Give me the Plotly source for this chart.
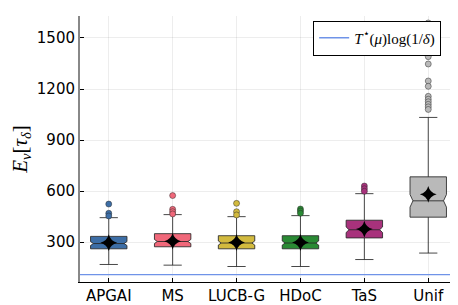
import plotly.graph_objects as go

categories = ["APGAI", "MS", "LUCB-G", "HDoC", "TaS", "Unif"]
q1 = [261, 273, 261, 261, 325, 447]
median = [292, 304, 295, 295, 373, 543]
q3 = [334, 350, 338, 338, 429, 684]
lowerfence = [169, 165, 157, 157, 198, 236]
upperfence = [444, 462, 450, 456, 585, 1033]
means = [297, 306, 298, 298, 377, 581]
outliers = [
    [524, 470, 454],
    [574, 493, 479, 466],
    [528, 479, 460],
    [495, 483, 470],
    [630, 614, 599],
    [1588, 1530, 1470, 1420, 1390, 1347, 1247, 1216, 1157, 1140, 1125, 1110, 1095, 1080],
]
colors = ["#3d6ea6", "#f0687a", "#d2ba3e", "#2a8a34", "#a8327c", "#b9b9b9"]
tstar_value = 109
legend_label = "<i>T</i><sup>\u22c6</sup>(<i>\u03bc</i>)log(1/<i>\u03b4</i>)"
y_label = "<i>E</i><sub><i>\u03bd</i></sub>[<i>\u03c4</i><sub><i>\u03b4</i></sub>]"

fig = go.Figure()
xs = list(range(len(categories)))

for i in xs:
    iqr = q3[i] - q1[i]
    fig.add_trace(go.Box(
        x=[i], q1=[q1[i]], median=[median[i]], q3=[q3[i]],
        lowerfence=[lowerfence[i]], upperfence=[upperfence[i]],
        notchspan=[0.157 * iqr], notched=True, notchwidth=0.08,
        fillcolor=colors[i], line=dict(color="rgba(40,40,40,0.85)", width=1),
        width=0.57, whiskerwidth=0.5, boxpoints=False, showlegend=False,
        hoverinfo="skip",
    ))
    fig.add_trace(go.Scatter(
        x=[i] * len(outliers[i]), y=outliers[i], mode="markers",
        marker=dict(symbol="circle", size=6, color=colors[i],
                    line=dict(color="rgba(40,40,40,0.6)", width=0.8)),
        showlegend=False, hoverinfo="skip",
    ))

fig.add_trace(go.Scatter(
    x=xs, y=means, mode="markers",
    marker=dict(symbol="star-diamond", size=12, color="black"),
    showlegend=False, hoverinfo="skip",
))

fig.add_trace(go.Scatter(
    x=[-0.45, 5.45], y=[tstar_value, tstar_value], mode="lines",
    line=dict(color="#6f93e8", width=1.3), name=legend_label,
))

fig.update_layout(
    width=458, height=305,
    margin=dict(l=72, r=9, t=8, b=27),
    paper_bgcolor="white", plot_bgcolor="white",
    font=dict(family="DejaVu Sans", size=15, color="black"),
    legend=dict(x=0.958, y=0.983, xanchor="right", yanchor="top",
                bgcolor="white", bordercolor="black", borderwidth=1,
                font=dict(family="Liberation Serif", size=15)),
    xaxis=dict(range=[-0.45, 5.45], tickvals=xs, ticktext=categories,
               showgrid=True, gridcolor="rgba(0,0,0,0.07)",
               showline=True, linecolor="black", linewidth=1,
               ticks="inside", ticklen=4, tickcolor="black",
               zeroline=False, fixedrange=True),
    yaxis=dict(range=[66, 1629], tickvals=[300, 600, 900, 1200, 1500],
               showgrid=True, gridcolor="rgba(0,0,0,0.07)",
               showline=True, linecolor="#888888", linewidth=2,
               ticks="inside", ticklen=4, tickcolor="black",
               zeroline=False,
               title=dict(text=y_label, font=dict(family="Liberation Serif", size=21), standoff=6)),
)

fig.write_html("out.html")
